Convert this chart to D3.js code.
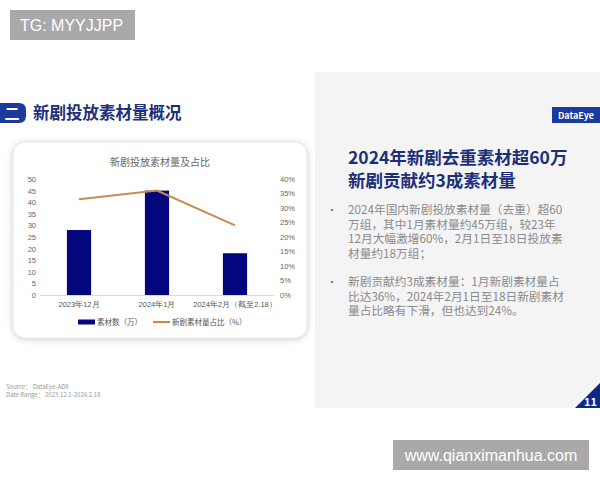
<!DOCTYPE html>
<html>
<head>
<meta charset="utf-8">
<script src="https://cdn.jsdelivr.net/npm/d3@7"></script>
<style>
  html, body { margin: 0; padding: 0; background: #fff; }
  svg { display: block; font-family: "Noto Sans CJK SC", "Noto Sans", sans-serif; }
</style>
</head>
<body>
<main></main>
<script>
const categories = ['2023年12月', '2024年1月', '2024年2月（截至2.18）'];
const materialCounts = [28, 45, 18];      // 万
const newShare = [33, 36, 24];            // %
const leftTicks = [0, 5, 10, 15, 20, 25, 30, 35, 40, 45, 50];
const rightTicks = [0, 5, 10, 15, 20, 25, 30, 35, 40];
const legendLabels = ['素材数（万）', '新剧素材量占比（%）'];

const headline = ['2024年新剧去重素材超60万', '新剧贡献约3成素材量'];
const bullets = [
  ['2024年国内新剧投放素材量（去重）超60', '万组，其中1月素材量约45万组，较23年', '12月大幅激增60%，2月1日至18日投放素', '材量约18万组；'],
  ['新剧贡献约3成素材量：1月新剧素材量占', '比达36%，2024年2月1日至18日新剧素材', '量占比略有下滑，但也达到24%。']
];

const navy = '#1c2f7a';
const barColor = '#04067e';
const lineColor = '#c98a52';

const $main = d3.select('main');
const $svg = $main.append('svg').attr('width', 600).attr('height', 480);

const $defs = $svg.append('defs');
const $shadow = $defs.append('filter').attr('id', 'shadow').attr('x', '-10%').attr('y', '-10%').attr('width', '120%').attr('height', '120%');
$shadow.append('feDropShadow').attr('dx', 0).attr('dy', 1).attr('stdDeviation', 3).attr('flood-color', '#000').attr('flood-opacity', 0.2);

// watermark top
$svg.append('rect').attr('x', 10).attr('y', 10).attr('width', 125).attr('height', 30).attr('fill', '#a9a9a9');
$svg.append('text').attr('x', 20).attr('y', 31).attr('fill', '#fff')
  .style('font-family', '"Liberation Sans", Arial, sans-serif').style('font-size', '16px').text('TG: MYYJJPP');

// right panel
$svg.append('rect').attr('x', 315).attr('y', 72).attr('width', 285).attr('height', 336).attr('fill', '#f4f4f5');

// section header
$svg.append('path').attr('d', 'M0,103 H19 Q26,103 26,110 V116 Q26,123 19,123 H0 Z').attr('fill', '#1a3a9e');
$svg.append('text').attr('x', 12).attr('y', 119).attr('text-anchor', 'middle').attr('fill', '#fff')
  .style('font-size', '15px').style('font-weight', 700).text('二');
$svg.append('text').attr('x', 33).attr('y', 119).attr('fill', navy)
  .style('font-size', '16.5px').style('font-weight', 700).text('新剧投放素材量概况');

// logo
$svg.append('rect').attr('x', 552).attr('y', 107).attr('width', 48).attr('height', 16).attr('fill', '#1a3a9e');
$svg.append('text').attr('x', 576).attr('y', 118.5).attr('text-anchor', 'middle').attr('fill', '#fff')
  .style('font-size', '9px').style('font-weight', 700).text('DataEye');

// headline
$svg.append('text').attr('fill', navy).style('font-size', '17.5px').style('font-weight', 700)
  .selectAll('tspan').data(headline).join('tspan')
  .attr('x', 348).attr('y', (d, i) => 164 + i * 23)
  .text(d => d);

// bullets
const bulletTop = [214, 286];
bullets.forEach((lines, b) => {
  $svg.append('circle').attr('cx', 332).attr('cy', bulletTop[b] - 4).attr('r', 1.3).attr('fill', '#888');
  $svg.append('text').attr('fill', '#8a8a8a').style('font-size', '11.7px')
    .selectAll('tspan').data(lines).join('tspan')
    .attr('x', 348).attr('y', (d, i) => bulletTop[b] + i * 14.5)
    .text(d => d);
});

// page number
$svg.append('path').attr('d', 'M575,408 L600,383 L600,408 Z').attr('fill', '#0d2a8a');
$svg.append('text').attr('x', 597).attr('y', 406).attr('text-anchor', 'end').attr('fill', '#fff')
  .style('font-size', '11px').style('font-weight', 700).text('11');

// source
$svg.append('text').attr('fill', '#999').style('font-size', '6px')
  .selectAll('tspan').data(['Source： DataEye-ADX', 'Date Range：  2023.12.1-2024.2.18']).join('tspan')
  .attr('x', 6).attr('y', (d, i) => 389 + i * 8)
  .text(d => d);

// watermark bottom
$svg.append('rect').attr('x', 393).attr('y', 440).attr('width', 196).attr('height', 30).attr('fill', '#a9a9a9');
$svg.append('text').attr('x', 491).attr('y', 461).attr('text-anchor', 'middle').attr('fill', '#fff')
  .style('font-family', '"Liberation Sans", Arial, sans-serif').style('font-size', '16px').text('www.qianximanhua.com');

// chart card
$svg.append('rect').attr('x', 13).attr('y', 142).attr('width', 294).attr('height', 196).attr('rx', 12)
  .attr('fill', '#fff').attr('stroke', '#e4e4e4').attr('filter', 'url(#shadow)');

$svg.append('text').attr('x', 160).attr('y', 166).attr('text-anchor', 'middle').attr('fill', '#666')
  .style('font-size', '10px').text('新剧投放素材量及占比');

const $g = $svg.append('g');

const x = d3.scaleBand().domain(categories).range([40, 274]).paddingInner(0.69).paddingOuter(0.345);
const yL = d3.scaleLinear().domain([0, 50]).range([295, 179]);
const yR = d3.scaleLinear().domain([0, 40]).range([295, 179]);

const axisL = d3.axisLeft(yL).tickValues(leftTicks).tickSize(0).tickPadding(6);
$g.append('g').attr('transform', 'translate(40,0)').call(axisL)
  .call(s => s.select('.domain').remove())
  .call(s => s.selectAll('text').attr('fill', '#666').style('font-size', '7.5px').attr('x', -4));

const axisR = d3.axisRight(yR).tickValues(rightTicks).tickFormat(d => d + '%').tickSize(0).tickPadding(6);
$g.append('g').attr('transform', 'translate(274,0)').call(axisR)
  .call(s => s.select('.domain').remove())
  .call(s => s.selectAll('text').attr('fill', '#666').style('font-size', '7.5px'));

const axisX = d3.axisBottom(x).tickSize(0).tickPadding(7);
$g.append('g').attr('transform', 'translate(0,295)').call(axisX)
  .call(s => s.select('.domain').attr('stroke', '#d9d9d9'))
  .call(s => s.selectAll('text').attr('fill', '#555').style('font-size', '7.5px'));

$g.append('g').selectAll('rect').data(materialCounts).join('rect')
  .attr('x', (d, i) => x(categories[i]))
  .attr('y', d => yL(d))
  .attr('width', x.bandwidth())
  .attr('height', d => yL(0) - yL(d))
  .attr('fill', barColor);

const line = d3.line().x((d, i) => x(categories[i]) + x.bandwidth() / 2).y(d => yR(d));
$g.append('path').datum(newShare).attr('d', line)
  .attr('fill', 'none').attr('stroke', lineColor).attr('stroke-width', 2);

// legend
const $leg = $g.append('g').attr('transform', 'translate(0,322)');
$leg.append('rect').attr('x', 78).attr('y', -2.5).attr('width', 17).attr('height', 5).attr('fill', barColor);
$leg.append('text').attr('x', 97).attr('y', 3).attr('fill', '#555').style('font-size', '7.5px').text(legendLabels[0]);
$leg.append('line').attr('x1', 153).attr('x2', 170).attr('y1', 0).attr('y2', 0).attr('stroke', lineColor).attr('stroke-width', 2);
$leg.append('text').attr('x', 172).attr('y', 3).attr('fill', '#555').style('font-size', '7.5px').text(legendLabels[1]);
</script>
</body>
</html>
